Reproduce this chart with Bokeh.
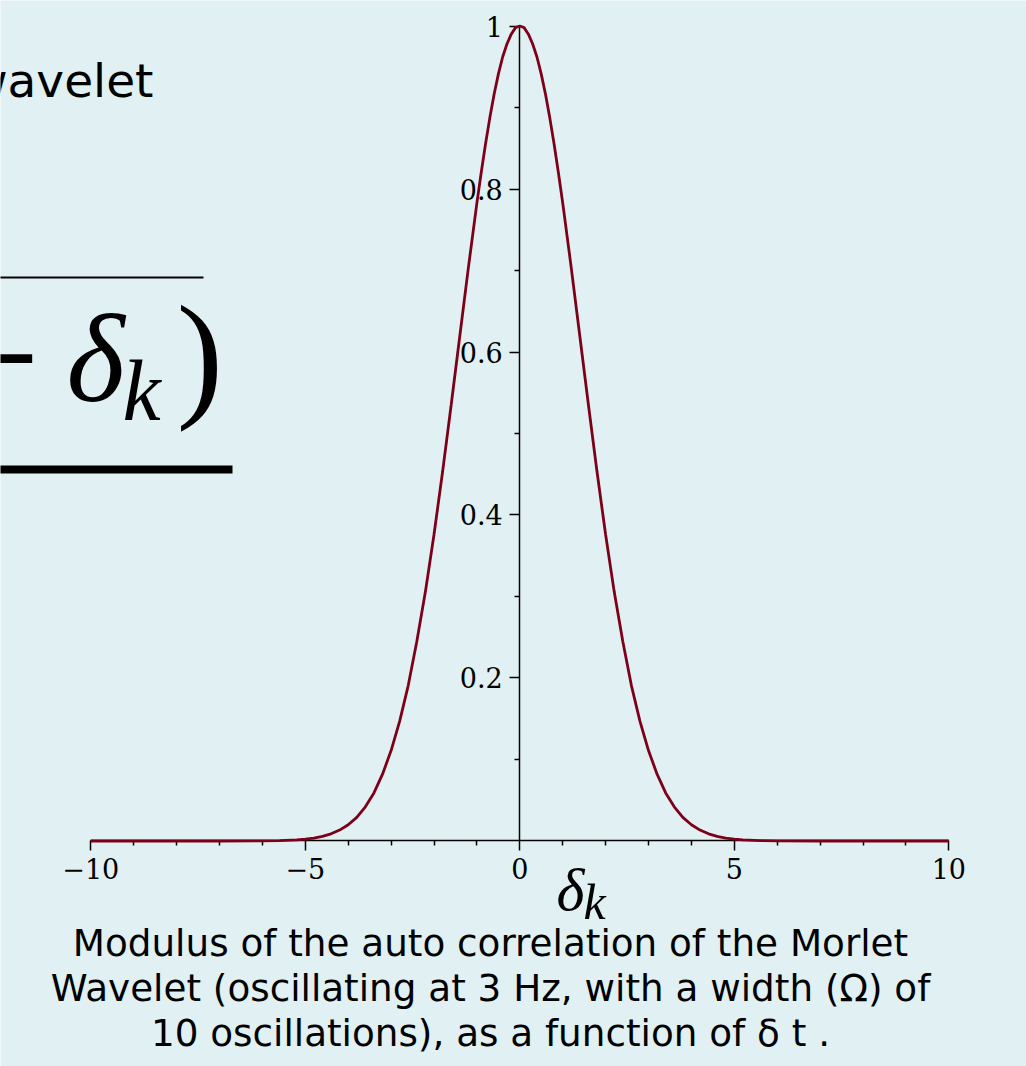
from bokeh.plotting import figure
from bokeh.models import (Range1d, LinearAxis, FixedTicker, CustomJSTickFormatter,
                          Label, BoxAnnotation, ColumnDataSource)
from bokeh.embed import file_html
from bokeh.resources import INLINE

# ---------------- data ----------------
DELTA = [-10.0, -8.0, -7.0, -6.0, -5.6, -5.2, -5.0, -4.8, -4.6, -4.4, -4.2, -4.0, -3.8, -3.6, -3.4,
         -3.2, -3.0, -2.8, -2.6, -2.4, -2.2, -2.0, -1.8, -1.6, -1.4, -1.2, -1.0,
         -0.9, -0.8, -0.7, -0.6, -0.5, -0.4, -0.3, -0.2, -0.1, 0.0,
         0.1, 0.2, 0.3, 0.4, 0.5, 0.6, 0.7, 0.8, 0.9, 1.0,
         1.2, 1.4, 1.6, 1.8, 2.0, 2.2, 2.4, 2.6, 2.8, 3.0, 3.2, 3.4, 3.6, 3.8,
         4.0, 4.2, 4.4, 4.6, 4.8, 5.0, 5.2, 5.6, 6.0, 7.0, 8.0, 10.0]
MODULUS = [0.0, 0.0, 0.0, 0.0002, 0.0005, 0.0013, 0.0022, 0.0036, 0.0057, 0.0088, 0.0134, 0.020, 0.029, 0.042, 0.059,
           0.082, 0.111, 0.147, 0.191, 0.245, 0.306, 0.376, 0.453, 0.535, 0.619, 0.703, 0.783,
           0.820, 0.855, 0.887, 0.916, 0.941, 0.962, 0.978, 0.990, 0.998, 1.000,
           0.998, 0.990, 0.978, 0.962, 0.941, 0.916, 0.887, 0.855, 0.820, 0.783,
           0.703, 0.619, 0.535, 0.453, 0.376, 0.306, 0.245, 0.191, 0.147, 0.111, 0.082, 0.059, 0.042, 0.029,
           0.020, 0.0134, 0.0088, 0.0057, 0.0036, 0.0022, 0.0013, 0.0005, 0.0002, 0.0, 0.0, 0.0]

X_TICKS = [-10, -5, 0, 5, 10]
X_TICK_LABELS = ["\u221210", "\u22125", "0", "5", "10"]
X_MINOR = [-9, -8, -7, -6, -4, -3, -2, -1, 1, 2, 3, 4, 6, 7, 8, 9]
Y_TICKS = [0.2, 0.4, 0.6, 0.8, 1.0]
Y_TICK_LABELS = ["0.2", "0.4", "0.6", "0.8", "1"]
Y_MINOR = [0.1, 0.3, 0.5, 0.7, 0.9]

CAPTION = ["Modulus of the auto correlation of the Morlet",
           "Wavelet (oscillating at 3 Hz, with a width (\u03a9) of",
           "10 oscillations), as a function of \u03b4 t ."]

BG = "#e1f0f2"
CURVE = "#7d0018"
W, H = 1026, 1066

p = figure(width=W, height=H,
           x_range=Range1d(-12.105, 11.811), y_range=Range1d(-0.2767, 1.0313),
           output_backend="svg", toolbar_location=None,
           x_axis_location=None, y_axis_location=None,
           min_border=0, min_border_left=0, min_border_right=0,
           min_border_top=0, min_border_bottom=0,
           background_fill_color=BG, border_fill_color=BG,
           outline_line_color=None)
p.grid.visible = False

common = dict(axis_line_width=1.5, axis_line_color="black",
              major_tick_in=0, major_tick_out=10, minor_tick_in=0, minor_tick_out=5,
              major_tick_line_width=1.5, minor_tick_line_width=1.5,
              major_label_text_font="DejaVu Serif", major_label_text_font_size="27px",
              major_label_text_color="black")

xaxis = LinearAxis(fixed_location=0, bounds=(-10, 10),
                   ticker=FixedTicker(ticks=X_TICKS, minor_ticks=X_MINOR),
                   formatter=CustomJSTickFormatter(args=dict(labels=X_TICK_LABELS),
                                                   code="return labels[index]"),
                   major_label_standoff=7, **common)
yaxis = LinearAxis(fixed_location=0, bounds=(0, 1),
                   ticker=FixedTicker(ticks=Y_TICKS, minor_ticks=Y_MINOR),
                   formatter=CustomJSTickFormatter(args=dict(labels=Y_TICK_LABELS),
                                                   code="return labels[index]"),
                   major_label_standoff=7, **common)
p.add_layout(xaxis, "below")
p.add_layout(yaxis, "left")

src = ColumnDataSource(dict(x=DELTA, y=MODULUS))
r = p.line("x", "y", source=src, line_color=CURVE, line_width=2.8)
r.level = "overlay"

BASE_SHIFT = 0.37  # measured offset of the rendered baseline, in em

def lab(text, X, Y, font, size, style="normal", align="left"):
    # X, Y: reference pixel position of the text's baseline point
    p.add_layout(Label(x=X, y=H - Y + BASE_SHIFT * size, x_units="screen", y_units="screen",
                       text=text, text_font=font, text_font_size=f"{size}px",
                       text_font_style=style, text_align=align,
                       text_baseline="alphabetic", text_color="black"))

# clipped heading / equation fragment at the top left
lab("wavelet", 153, 97, "DejaVu Sans", 47, align="right")
lab("\u2212", 38, 405, "Liberation Serif", 125, style="bold", align="right")
lab("\u03b4", 66, 405, "Liberation Serif", 125, style="italic")
lab("k", 122, 422, "Liberation Serif", 86, style="italic")
lab(")", 176, 406, "Liberation Serif", 140)

for (top, bot, right) in [(276, 278, 203), (465, 473, 232)]:
    p.add_layout(BoxAnnotation(left=-20, right=right, top=H - top, bottom=H - bot,
                               left_units="screen", right_units="screen",
                               top_units="screen", bottom_units="screen",
                               fill_color="black", fill_alpha=1.0, line_color=None))

# axis label delta_k
lab("\u03b4", 556, 912, "Liberation Serif", 60, style="italic")
lab("k", 583, 920, "Liberation Serif", 50, style="italic")

# caption
for i, line in enumerate(CAPTION):
    lab(line, 490, 956.7 + 45 * i, "DejaVu Sans", 37.3, align="center")

open("out.html", "w").write(file_html(p, INLINE))
